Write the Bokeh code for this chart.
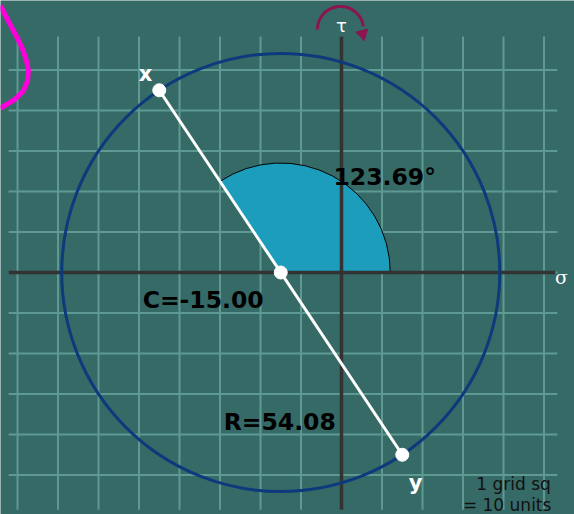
from bokeh.plotting import figure
from bokeh.models import Range1d
from bokeh.core.properties import value
from bokeh.embed import file_html
from bokeh.resources import INLINE
import numpy as np

# ---- data (stress units) ----
center_c = -15.00
radius_r = 54.08
angle_2theta = 123.69          # degrees
point_x = (-45.0, 45.0)         # (sigma, tau) of point x
point_y = (15.0, -45.0)         # (sigma, tau) of point y
grid_sigma = list(range(-80, 51, 10))
grid_tau = list(range(-50, 51, 10))
# freehand magenta stroke (data units)
stroke_sigma = [-84.2, -83.0, -81.7, -80.0, -78.8, -77.8, -77.3, -77.5, -78.5, -80.7, -83.5, -84.2]
stroke_tau = [65.9, 63.5, 61.0, 57.8, 55.3, 52.3, 49.9, 47.4, 44.9, 42.7, 41.0, 40.5]

BG = "#366a66"
GRID = "#5f9993"
AXIS = "#333333"
NAVY = "#0c3a7c"
WEDGE = "#1c9dbb"
BOLD = value("DejaVu Sans")

p = figure(width=574, height=514, output_backend="svg", toolbar_location=None,
           x_range=Range1d(-84.20, 57.53), y_range=Range1d(-59.75, 67.16),
           min_border=0, background_fill_color=BG, border_fill_color=BG,
           outline_line_color=None)
p.axis.visible = False
p.grid.visible = False

# grid
p.multi_line(xs=[[s, s] for s in grid_sigma], ys=[[58.3, -58.6]] * len(grid_sigma),
             line_color=GRID, line_width=2)
p.multi_line(xs=[[-82.2, 53.3]] * len(grid_tau), ys=[[t, t] for t in grid_tau],
             line_color=GRID, line_width=2)

# wedge for the angle
p.wedge(x=[center_c], y=[0], radius=radius_r / 2, start_angle=0, end_angle=angle_2theta,
        start_angle_units="deg", end_angle_units="deg",
        fill_color=WEDGE, line_color="#000000", line_width=1)

# axes
p.line(x=[-82.2, 52.8], y=[0, 0], line_color=AXIS, line_width=3.5)
p.line(x=[0, 0], y=[58.3, -58.6], line_color=AXIS, line_width=3.5)

# Mohr circle
p.circle(x=[center_c], y=[0], radius=radius_r, fill_alpha=0,
         line_color=NAVY, line_width=3)

# diameter
p.line(x=[point_x[0], point_y[0]], y=[point_x[1], point_y[1]], line_color="white", line_width=3)
p.scatter(x=[point_x[0], center_c, point_y[0]], y=[point_x[1], 0, point_y[1]],
          size=13, fill_color="white", line_color="white")

# tau rotation arrow
p.arc(x=[-0.25], y=[60.0], radius=5.7, start_angle=8, end_angle=180,
      start_angle_units="deg", end_angle_units="deg", line_color="#8c1450", line_width=3)
p.scatter(x=[5.2], y=[58.9], marker="triangle", size=12, angle=np.pi + 0.25,
          fill_color="#8c1450", line_color="#8c1450")

# magenta stroke
p.line(x=stroke_sigma, y=stroke_tau, line_color="#ff00dc", line_width=5)

# texts
p.text(x=[-1.98], y=[23.7], text=[f"{angle_2theta:.2f}°"], text_font=BOLD,
       text_font_style="bold", text_font_size="23.5px", text_color="black",
       text_align="left", text_baseline="alphabetic")
p.text(x=[-49.1], y=[-6.9], text=[f"C={center_c:.2f}"], text_font=BOLD,
       text_font_style="bold", text_font_size="23.5px", text_color="black",
       text_align="left", text_baseline="alphabetic")
p.text(x=[-29.1], y=[-37.0], text=[f"R={radius_r:.2f}"], text_font=BOLD,
       text_font_style="bold", text_font_size="23.5px", text_color="black",
       text_align="left", text_baseline="alphabetic")
p.text(x=[-48.4, 18.3], y=[48.9, -51.9], text=["x", "y"], text_font=BOLD,
       text_font_style="bold", text_font_size="21px", text_color="white",
       text_align="center", text_baseline="alphabetic")
p.text(x=[0], y=[61.0], text=["τ"], text_font=value("DejaVu Sans"),
       text_font_size="18px", text_color="white", text_align="center",
       text_baseline="alphabetic")
p.text(x=[54.3], y=[-1.2], text=["σ"], text_font=value("DejaVu Serif"),
       text_font_size="19px", text_color="white", text_align="center",
       text_baseline="alphabetic")
p.text(x=[42.5, 40.9], y=[-52.1, -57.5], text=["1 grid sq", "= 10 units"],
       text_font=value("DejaVu Sans"), text_font_size="17px", text_color="#111111",
       text_align="center", text_baseline="alphabetic")

html = file_html(p, INLINE)
html = html.replace("<body>", '<body style="background-color:#366a66;">', 1)
open("out.html", "w").write(html)
